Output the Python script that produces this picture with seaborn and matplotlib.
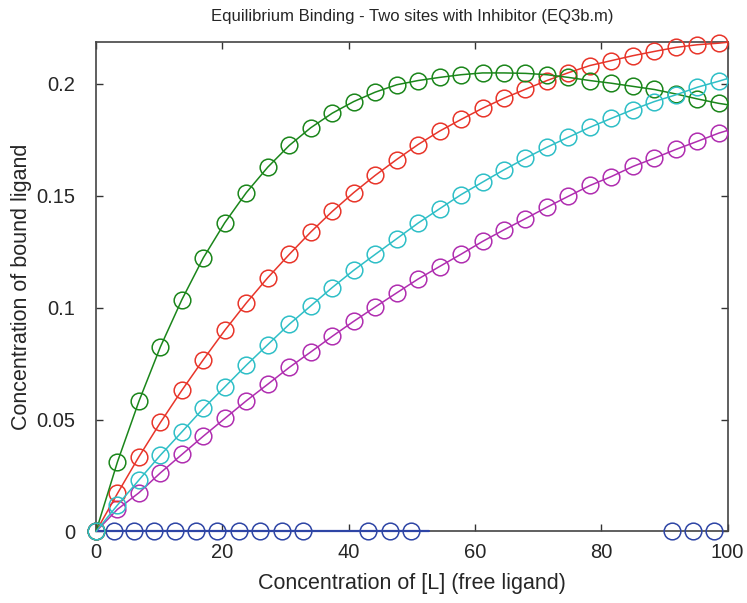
import numpy as np
import pandas as pd
import matplotlib
matplotlib.use("Agg")
import matplotlib.pyplot as plt
import seaborn as sns

# Free ligand concentration at the marked samples (step 3.4), plus the curve end at 100
free_L = [0, 3.4, 6.8, 10.2, 13.6, 17.0, 20.4, 23.8, 27.2, 30.6, 34.0, 37.4, 40.8,
          44.2, 47.6, 51.0, 54.4, 57.8, 61.2, 64.6, 68.0, 71.4, 74.8, 78.2, 81.6,
          85.0, 88.4, 91.8, 95.2, 98.6, 100.0]

bound_green = [0, 0.0311, 0.0582, 0.0825, 0.1036, 0.1223, 0.1380, 0.1514, 0.1628,
               0.1725, 0.1804, 0.1869, 0.1921, 0.1963, 0.1996, 0.2015, 0.2029,
               0.2041, 0.2049, 0.2049, 0.2047, 0.2041, 0.2029, 0.2015, 0.2003,
               0.1989, 0.1975, 0.1955, 0.1933, 0.1913, 0.1907]

bound_red = [0, 0.0170, 0.0334, 0.0487, 0.0631, 0.0768, 0.0899, 0.1021, 0.1134,
             0.1238, 0.1338, 0.1430, 0.1514, 0.1591, 0.1662, 0.1729, 0.1789,
             0.1841, 0.1891, 0.1936, 0.1976, 0.2015, 0.2050, 0.2082, 0.2104,
             0.2126, 0.2145, 0.2163, 0.2175, 0.2182, 0.2186]

bound_cyan = [0, 0.0118, 0.0230, 0.0341, 0.0445, 0.0550, 0.0646, 0.0743, 0.0835,
              0.0926, 0.1008, 0.1090, 0.1167, 0.1238, 0.1308, 0.1378, 0.1442,
              0.1505, 0.1561, 0.1616, 0.1668, 0.1717, 0.1762, 0.1806, 0.1846,
              0.1885, 0.1921, 0.1951, 0.1985, 0.2012, 0.2024]

bound_purple = [0, 0.0099, 0.0173, 0.0262, 0.0344, 0.0426, 0.0505, 0.0584, 0.0658,
                0.0733, 0.0802, 0.0872, 0.0939, 0.1003, 0.1066, 0.1128, 0.1184,
                0.1239, 0.1296, 0.1348, 0.1398, 0.1449, 0.1498, 0.1546, 0.1586,
                0.1631, 0.1668, 0.1707, 0.1743, 0.1780, 0.1792]

# Baseline (no binding) series: line segment and its sample markers
blue_line_x = [0, 52.7]
blue_line_y = [0, 0]
blue_mark_x = [2.8, 6.0, 9.2, 12.5, 15.8, 19.1, 22.7, 26.0, 29.4, 32.7,
               43.1, 46.5, 49.9, 91.2, 94.5, 97.8]
blue_mark_y = [0] * len(blue_mark_x)

x_ticks = [0, 20, 40, 60, 80, 100]
y_ticks = [0, 0.05, 0.1, 0.15, 0.2]
y_tick_labels = ["0", "0.05", "0.1", "0.15", "0.2"]

sns.set_style("ticks")
plt.rcParams["font.family"] = ["Liberation Sans", "DejaVu Sans"]
plt.rcParams["xtick.direction"] = "in"
plt.rcParams["ytick.direction"] = "in"

fig = plt.figure(figsize=(7.47, 6.03), dpi=100)
ax = fig.add_axes([0.1285, 0.1186, 0.8455, 0.8113])

n_marks = len(free_L) - 1
mark_idx = list(range(n_marks))
common = dict(marker="o", markersize=12, markerfacecolor="none",
              markeredgewidth=1.1, linewidth=1.1, markevery=mark_idx,
              clip_on=False)

# Baseline
sns.lineplot(x=blue_line_x, y=blue_line_y, ax=ax, color="#2e45a5",
             linewidth=1.6, clip_on=False, zorder=4, estimator=None, sort=False)
ax.plot(blue_mark_x, blue_mark_y, linestyle="none", marker="o", markersize=12,
        markerfacecolor="none", markeredgecolor="#2e45a5", markeredgewidth=1.1,
        clip_on=False, zorder=4)

series = [
    (bound_purple, "#b02eb0"),
    (bound_red, "#e8352a"),
    (bound_green, "#1b861b"),
    (bound_cyan, "#2fbfc7"),
]
for i, (vals, col) in enumerate(series):
    sns.lineplot(x=free_L, y=vals, ax=ax, color=col, markeredgecolor=col,
                 estimator=None, sort=False, zorder=5 + i, **common)

ax.set_xlim(0, 100)
ax.set_ylim(0, 0.2186)
ax.set_xticks(x_ticks)
ax.set_xticklabels([str(t) for t in x_ticks])
ax.set_yticks(y_ticks)
ax.set_yticklabels(y_tick_labels)
ax.tick_params(axis="both", which="both", direction="in", length=5, width=1,
               color="#333333", labelsize=14.5, top=True, right=True)
ax.tick_params(axis="x", pad=8.5)
ax.tick_params(axis="y", pad=15)
for s in ax.spines.values():
    s.set_visible(True)
    s.set_color("#444444")
    s.set_linewidth(1.2)

ax.set_xlabel("Concentration of [L] (free ligand)", fontsize=15.5, labelpad=8)
ax.set_ylabel("Concentration of bound ligand", fontsize=15.5, labelpad=3)
ax.set_title("Equilibrium Binding - Two sites with Inhibitor (EQ3b.m)",
             fontsize=12, pad=15)

fig.savefig("out.png", dpi=100)
